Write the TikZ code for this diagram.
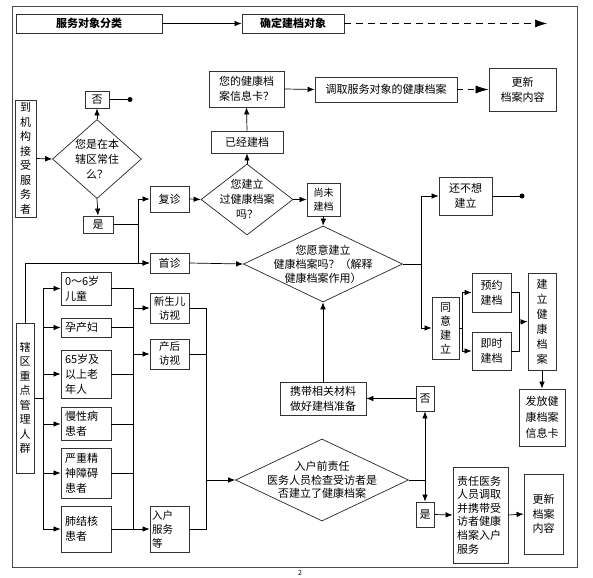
\documentclass[tikz,border=0pt]{standalone}
\usepackage{fontspec}
\setmainfont{Noto Sans CJK SC}
\usetikzlibrary{shapes.geometric,arrows.meta}
\begin{document}
\begin{tikzpicture}[x=1pt,y=-1pt,line width=0.7pt,
    box/.style={draw=black!80,line width=0.8pt,inner sep=1pt,align=center,font=\fontsize{11}{15}\selectfont},
    head/.style={box,font=\fontsize{11}{15}\selectfont\bfseries},
    vbox/.style={box,font=\fontsize{11}{14.5}\selectfont},
    lbox/.style={box,inner sep=4pt,align=left},
    dia/.style={draw=black!85,line width=0.7pt,diamond,inner sep=0pt},
    diatext/.style={align=center,inner sep=0pt,font=\fontsize{11}{15}\selectfont},
    arr/.style={-{Latex[length=7pt,width=5.5pt]}},
    dasharr/.style={dash pattern=on 7pt off 5pt,-{Latex[length=12pt,width=8pt]}}]
  \useasboundingbox (0,0) rectangle (593,577);
  \draw[black!70,line width=0.9pt] (12,6) rectangle (577,567);
  \node[head,minimum width=146,minimum height=19] (h1) at (89,23.5) {服务对象分类};
  \node[head,minimum width=102,minimum height=19] (h2) at (293,23.5) {确定建档对象};
  \coordinate (hend) at (547,23.5);
  \node[vbox,minimum width=21,minimum height=117] (a1) at (25.5,158.5) {到\\机\\构\\接\\受\\服\\务\\者};
  \node[dia,minimum width=89,minimum height=79] (q1) at (97,159) {};
  \node[diatext] (q1t) at (q1) {您是在本\\辖区常住\\么？};
  \node[box,minimum width=24,minimum height=17] (no1) at (97,99.5) {否};
  \coordinate (d1) at (130,99.5);
  \node[box,minimum width=30,minimum height=17] (yes1) at (98,224.5) {是};
  \coordinate (j1) at (138,224.5);
  \node[box,minimum width=39,minimum height=26] (fz) at (169.5,199) {复诊};
  \node[box,minimum width=39,minimum height=20] (sz) at (169.5,263) {首诊};
  \node[dia,minimum width=92,minimum height=71] (q2) at (247,199.5) {};
  \node[diatext] (q2t) at (q2) {您建立\\过健康档案\\吗？};
  \node[box,minimum width=72,minimum height=22] (yj) at (247,142) {已经建档};
  \node[box,minimum width=75,minimum height=36] (card) at (246.5,89) {您的健康档\\案信息卡？};
  \node[box,minimum width=142,minimum height=25] (dq) at (386,89.5) {调取服务对象的健康档案};
  \node[box,minimum width=67,minimum height=43] (gx1) at (522.5,89.5) {更新\\档案内容};
  \node[box,minimum width=33,minimum height=33,font=\fontsize{10}{14}\selectfont] (wj) at (323.5,199.5) {尚未\\建档};
  \node[dia,minimum width=159,minimum height=76] (q3) at (323,264) {};
  \node[diatext,font=\fontsize{11}{14}\selectfont] (q3t) at (q3) {您愿意建立\\健康档案吗？（解释\\健康档案作用）};
  \node[box,minimum width=53,minimum height=38] (bx) at (465.5,196) {还不想\\建立};
  \coordinate (d2) at (522,196);
  \coordinate (j2) at (421,264);
  \node[vbox,minimum width=27,minimum height=62,font=\fontsize{11}{14}\selectfont] (ty) at (445.5,328) {同\\意\\建\\立};
  \coordinate (j3) at (462,328);
  \node[box,minimum width=39,minimum height=39] (yy) at (491.5,292.5) {预约\\建档};
  \node[box,minimum width=39,minimum height=38] (js) at (491.5,351) {即时\\建档};
  \coordinate (j4) at (519,322);
  \node[vbox,minimum width=28,minimum height=97,font=\fontsize{11}{15}\selectfont] (jl) at (542,321.5) {建\\立\\健\\康\\档\\案};
  \node[box,minimum width=46,minimum height=57,font=\fontsize{11}{16}\selectfont] (ff) at (542,417.5) {发放健\\康档案\\信息卡};
  \node[vbox,minimum width=18,minimum height=150] (xq) at (25,398) {辖\\区\\重\\点\\管\\理\\人\\群};
  \coordinate (j5) at (43,398);
  \node[lbox,text width=42,minimum height=31] (c1) at (86,288.5) {0～6岁\\儿童};
  \node[lbox,text width=42,minimum height=19] (c2) at (86,327.5) {孕产妇};
  \node[lbox,text width=42,minimum height=46] (c3) at (86,374) {65岁及\\以上老\\年人};
  \node[lbox,text width=42,minimum height=32] (c4) at (86,424) {慢性病\\患者};
  \node[lbox,text width=42,minimum height=50] (c5) at (86,473) {严重精\\神障碍\\患者};
  \node[lbox,text width=42,minimum height=46] (c6) at (86,529) {肺结核\\患者};
  \coordinate (b1) at (133,529);
  \node[box,minimum width=39,minimum height=30,font=\fontsize{10.5}{14}\selectfont] (xs) at (169.5,308) {新生儿\\访视};
  \node[box,minimum width=39,minimum height=30,font=\fontsize{10.5}{14}\selectfont] (ch) at (169.5,354) {产后\\访视};
  \node[lbox,inner sep=2pt,text width=35,minimum height=46,font=\fontsize{10.5}{14}\selectfont] (rh) at (169.5,529) {入户\\服务\\等};
  \coordinate (b2) at (206,480);
  \node[dia,minimum width=173,minimum height=82] (q4) at (322,480) {};
  \node[diatext,font=\fontsize{11}{13.5}\selectfont] (q4t) at (q4) {入户前责任\\医务人员检查受访者是\\否建立了健康档案};
  \coordinate (j7) at (425,480);
  \node[box,minimum width=18,minimum height=25] (no2) at (425,398.5) {否};
  \node[box,minimum width=18,minimum height=25] (yes2) at (425,514.5) {是};
  \node[box,minimum width=86,minimum height=33] (xd) at (323,398.5) {携带相关材料\\做好建档准备};
  \node[lbox,text width=47,minimum height=96,font=\fontsize{11}{13.6}\selectfont] (zr) at (480.5,515) {责任医务\\人员调取\\并携带受\\访者健康\\档案入户\\服务};
  \node[box,minimum width=39,minimum height=80,font=\fontsize{11}{14.5}\selectfont] (gx2) at (543.5,514) {更新\\档案\\内容};
  \node[inner sep=0pt,font=\fontsize{7}{8}\selectfont] (pg) at (300,572.5) {2};
  \begin{scope}[arr]
    \draw (h1) -- (h2);
    \draw[dasharr] (h2.east) -- (hend);
    \draw (a1.east) -- (q1.west);
    \draw (q1.north) -- (no1.south);
    \draw (q1.south) -- (yes1.north);
    \draw[-] (yes1.east) -- (j1);
    \draw (j1) |- (fz);
    \draw (j1) |- (sz);
    \draw (xq.north) |- (sz);
    \draw (fz.east) -- (q2.west);
    \draw (q2.north) -- (yj.south);
    \draw (yj.north) -- (card.south);
    \draw (card.east) -- (dq.west);
    \draw[dasharr,dash pattern=on 6pt off 5pt,-{Latex[length=13pt,width=8pt]}] (dq.east) -- (gx1.west);
    \draw (q2.east) -- (wj.west);
    \draw (wj.south) -- (q3.north);
    \draw (sz.east) -- (q3.west);
    \draw[-] (q3.east) -- (j2);
    \draw (j2) |- (bx);
    \draw (j2) |- (ty);
    \draw[-] (ty.east) -- (j3);
    \draw (j3) |- (yy);
    \draw (j3) |- (js);
    \draw[-] (yy.east) -| (j4);
    \draw[-] (js.east) -| (j4);
    \draw (j4) -- (jl.west);
    \draw (jl.south) -- (ff.north);
    \draw[-] (xq.east) -- (j5);
    \draw (j5) |- (c1);
    \draw (j5) |- (c2);
    \draw (j5) |- (c3);
    \draw (j5) |- (c4);
    \draw (j5) |- (c5);
    \draw (j5) |- (c6);
    \draw[-] (c1.east) -| (b1);
    \draw[-] (c2.east) -| (b1);
    \draw[-] (c3.east) -| (b1);
    \draw[-] (c4.east) -| (b1);
    \draw[-] (c5.east) -| (b1);
    \draw[-] (c6.east) -| (b1);
    \draw (b1) |- (xs);
    \draw (b1) |- (ch);
    \draw (b1) -- (rh.west);
    \draw[-] (xs.east) -| (b2);
    \draw[-] (ch.east) -| (b2);
    \draw[-] (rh.east) -| (b2);
    \draw (b2) -- (q4.west);
    \draw[-] (q4.east) -- (j7);
    \draw (j7) -- (no2.south);
    \draw (j7) -- (yes2.north);
    \draw (no2.west) -- (xd.east);
    \draw (xd.north) -- (q3.south);
    \draw (yes2.east) -- (zr.west);
    \draw (zr.east) -- (gx2.west);
  \end{scope}
  \draw (no1.east) -- (d1);
  \fill (d1) circle (2.5);
  \draw (bx.east) -- (d2);
  \fill (d2) circle (2.5);
\end{tikzpicture}
\end{document}
